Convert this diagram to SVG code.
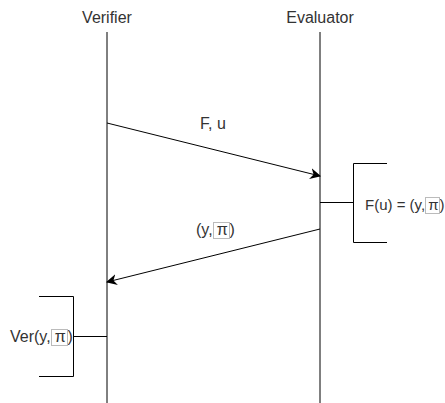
<svg xmlns="http://www.w3.org/2000/svg" width="445" height="403" viewBox="0 0 445 403">
<style>
text{font-family:"Liberation Sans",Arial,sans-serif;font-size:16px;fill:#333}
.ln{stroke:#000;stroke-width:1;fill:none}
.pb{fill:none;stroke:#bbb;stroke-width:1}
</style>
<defs>
<marker id="ah" viewBox="0 0 10 10" refX="9" refY="5" markerWidth="11" markerHeight="11" markerUnits="userSpaceOnUse" orient="auto">
<path d="M0,0 L10,5 L0,10 L3,5 Z" fill="#000"/>
</marker>
</defs>
<rect width="445" height="403" fill="#fff"/>
<g id="verifier">
<text x="107" y="23" text-anchor="middle">Verifier</text>
<line class="ln" x1="107" y1="32" x2="107" y2="403"/>
</g>
<g id="evaluator">
<text x="320" y="23" text-anchor="middle">Evaluator</text>
<line class="ln" x1="320" y1="32" x2="320" y2="403"/>
</g>
<g id="eval-note">
<path class="ln" d="M387,163.5 H353.5 V242.5 H387"/>
<text x="365" y="210" style="font-size:15px">F(u) = (y,<tspan x="428.3">π</tspan><tspan x="439.6">)</tspan></text>
<rect class="pb" x="425.5" y="197.5" width="14" height="16"/>
</g>
<g id="ver-note">
<path class="ln" d="M39,296.5 H73.5 V376.5 H39"/>
<text x="10" y="342">Ver(y,<tspan x="54.8">π</tspan><tspan x="67.5">)</tspan></text>
<rect class="pb" x="51.5" y="329.5" width="16" height="16"/>
</g>
<g id="connectors">
<line class="ln" x1="320" y1="202.5" x2="353" y2="202.5"/>
<line class="ln" x1="73" y1="336.5" x2="107" y2="336.5"/>
<line class="ln" x1="107" y1="123" x2="320" y2="176" marker-end="url(#ah)"/>
<line class="ln" x1="320" y1="229" x2="107" y2="282" marker-end="url(#ah)"/>
<text x="213" y="128.5" text-anchor="middle">F, u</text>
<text x="196" y="235">(y,<tspan x="216.8">π</tspan><tspan x="229.5">)</tspan></text>
<rect class="pb" x="213.5" y="222.5" width="16" height="16"/>
</g>
</svg>
